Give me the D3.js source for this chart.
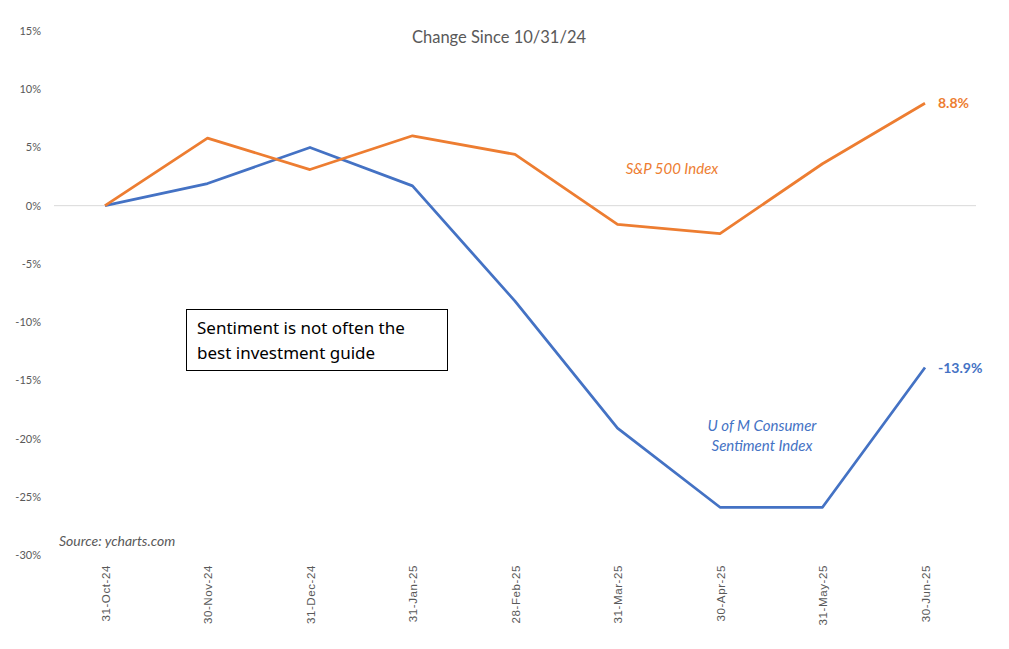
<!DOCTYPE html>
<html>
<head>
<meta charset="utf-8">
<script src="https://cdn.jsdelivr.net/npm/d3@7"></script>
<style>
  body { margin: 0; background: #fff; }
  text { font-family: Lato, "Open Sans", sans-serif; }
</style>
</head>
<body>
<script>
var dates = ["31-Oct-24", "30-Nov-24", "31-Dec-24", "31-Jan-25", "28-Feb-25",
             "31-Mar-25", "30-Apr-25", "31-May-25", "30-Jun-25"];
var spx = [0, 5.8, 3.1, 6.0, 4.4, -1.6, -2.4, 3.6, 8.8];
var sentiment = [0, 1.9, 5.0, 1.7, -8.2, -19.1, -25.9, -25.9, -13.9];
var yTicks = [15, 10, 5, 0, -5, -10, -15, -20, -25, -30];

var W = 1009, H = 649;
var svg = d3.select("body").append("svg")
  .attr("width", W)
  .attr("height", H);

var x = d3.scalePoint().domain(dates).range([105, 925]);
var y = d3.scaleLinear().domain([-30, 15]).range([555, 31]);

// title
svg.append("text")
  .attr("x", 499).attr("y", 43)
  .attr("text-anchor", "middle")
  .style("font-size", "16.5px")
  .style("fill", "#595959")
  .text("Change Since 10/31/24");

// zero line
svg.append("line")
  .attr("x1", 54).attr("x2", 976)
  .attr("y1", y(0)).attr("y2", y(0))
  .attr("stroke", "#d9d9d9").attr("stroke-width", 1);

// y axis labels
var yAxis = d3.axisLeft(y).tickValues(yTicks).tickSize(0).tickPadding(0)
  .tickFormat(function(d) { return d + "%"; });
svg.append("g")
  .attr("transform", "translate(41,0)")
  .call(yAxis)
  .call(function(g) { g.select(".domain").remove(); })
  .selectAll("text")
  .style("font-family", "Lato, sans-serif")
  .style("font-size", "11px")
  .style("fill", "#595959");

// x axis labels (rotated)
var xAxis = d3.axisBottom(x).tickSize(0).tickPadding(0);
svg.append("g")
  .attr("transform", "translate(0,563)")
  .call(xAxis)
  .call(function(g) { g.select(".domain").remove(); })
  .selectAll("text")
  .attr("transform", "rotate(-90)")
  .attr("x", -2).attr("y", 0).attr("dy", "0.35em")
  .style("text-anchor", "end")
  .style("font-family", "'Liberation Sans', Arial, sans-serif")
  .style("font-size", "11.5px")
  .style("letter-spacing", "0.6px")
  .style("fill", "#595959");

var line = d3.line()
  .x(function(d, i) { return x(dates[i]); })
  .y(function(d) { return y(d); });

svg.append("path").datum(sentiment)
  .attr("d", line)
  .attr("fill", "none")
  .attr("stroke", "#4472c4")
  .attr("stroke-width", 2.75)
  .attr("stroke-linejoin", "round");

svg.append("path").datum(spx)
  .attr("d", line)
  .attr("fill", "none")
  .attr("stroke", "#ed7d31")
  .attr("stroke-width", 2.75)
  .attr("stroke-linejoin", "round");

// end labels
var last = dates.length - 1;
svg.append("text")
  .attr("x", x(dates[last]) + 13).attr("y", y(spx[last]) + 5)
  .style("font-size", "14px").style("font-weight", "bold")
  .style("fill", "#ed7d31")
  .text(spx[last].toFixed(1) + "%");
svg.append("text")
  .attr("x", x(dates[last]) + 13).attr("y", y(sentiment[last]) + 5)
  .style("font-size", "14px").style("font-weight", "bold")
  .style("fill", "#4472c4")
  .text(sentiment[last].toFixed(1) + "%");

// series names
svg.append("text")
  .attr("x", 672).attr("y", 174)
  .attr("text-anchor", "middle")
  .style("font-size", "15px").style("font-style", "italic")
  .style("fill", "#ed7d31")
  .text("S&P 500 Index");
svg.append("text")
  .attr("x", 762).attr("y", 431)
  .attr("text-anchor", "middle")
  .style("font-size", "15px").style("font-style", "italic")
  .style("fill", "#4472c4")
  .text("U of M Consumer");
svg.append("text")
  .attr("x", 762).attr("y", 451)
  .attr("text-anchor", "middle")
  .style("font-size", "15px").style("font-style", "italic")
  .style("fill", "#4472c4")
  .text("Sentiment Index");

// source
svg.append("text")
  .attr("x", 59).attr("y", 546)
  .style("font-size", "14px").style("font-style", "italic")
  .style("fill", "#595959")
  .text("Source: ycharts.com");

// annotation box
svg.append("rect")
  .attr("x", 186.5).attr("y", 309.5)
  .attr("width", 261).attr("height", 61)
  .attr("fill", "#fff").attr("stroke", "#000").attr("stroke-width", 1);
svg.append("text")
  .attr("x", 197).attr("y", 334)
  .style("font-family", "'Comic Sans MS', cursive, 'Noto Sans', sans-serif")
  .style("font-size", "17px").style("fill", "#000")
  .text("Sentiment is not often the");
svg.append("text")
  .attr("x", 197).attr("y", 359)
  .style("font-family", "'Comic Sans MS', cursive, 'Noto Sans', sans-serif")
  .style("font-size", "17px").style("fill", "#000")
  .text("best investment guide");
</script>
</body>
</html>
